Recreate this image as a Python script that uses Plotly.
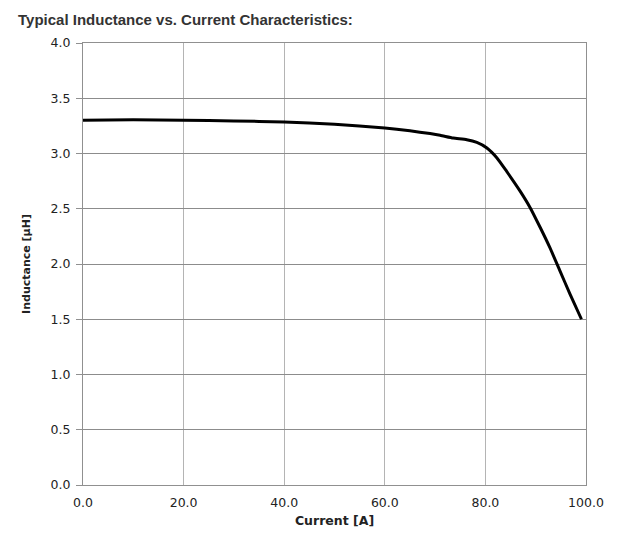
import plotly.graph_objects as go

current_a = [0, 10, 20, 30, 40, 50, 60, 65, 69, 71, 73.6, 76.3, 78.3, 80.3, 82.3, 84.2, 86.9, 88.9, 90.9, 92.8, 94.8, 96.8, 99.1]
inductance_uh = [3.30, 3.305, 3.30, 3.295, 3.285, 3.265, 3.23, 3.205, 3.18, 3.165, 3.14, 3.125, 3.10, 3.05, 2.96, 2.84, 2.66, 2.51, 2.33, 2.15, 1.94, 1.73, 1.50]

x_ticks = [0, 20, 40, 60, 80, 100]
y_ticks = [0, 0.5, 1.0, 1.5, 2.0, 2.5, 3.0, 3.5, 4.0]

fig = go.Figure()
fig.add_trace(go.Scatter(
    x=current_a, y=inductance_uh, mode="lines",
    line=dict(color="black", width=3, shape="spline", smoothing=0.5),
    showlegend=False, hoverinfo="skip"))

tick_font = "DejaVu Sans, sans-serif"
fig.update_layout(
    width=617, height=530,
    margin=dict(l=75, r=39, t=35, b=49),
    paper_bgcolor="white", plot_bgcolor="white",
    font=dict(family=tick_font, color="#222222", size=12.5),
    title=dict(text="<b>Typical Inductance vs. Current Characteristics:</b>",
               x=0.0162, xanchor="left", y=0.977, yanchor="middle",
               font=dict(size=15, color="#333333", family="Liberation Sans, Arial, sans-serif")),
)
fig.update_xaxes(
    range=[0, 100], tickvals=x_ticks, tickformat=".1f",
    showgrid=True, gridcolor="#b4b4b4", gridwidth=1,
    showline=True, linecolor="#909090", linewidth=1, mirror=True,
    ticks="", ticklabelstandoff=6,
    zeroline=False,
    title=dict(text="<b>Current [A]</b>", font=dict(size=12.5, color="#222222", family=tick_font), standoff=7),
    tickfont=dict(size=12.5, color="#222222", family=tick_font),
)
fig.update_yaxes(
    range=[0, 4.0], tickvals=y_ticks, tickformat=".1f",
    showgrid=True, gridcolor="#8c8c8c", gridwidth=1,
    showline=True, linecolor="#909090", linewidth=1, mirror=True,
    ticks="outside", ticklen=6, tickcolor="#909090", ticklabelstandoff=3,
    zeroline=False,
    title=dict(text="<b>Inductance [µH]</b>", font=dict(size=11, color="#222222", family=tick_font), standoff=17),
    tickfont=dict(size=12.5, color="#222222", family=tick_font),
)

fig.write_html("out.html")
